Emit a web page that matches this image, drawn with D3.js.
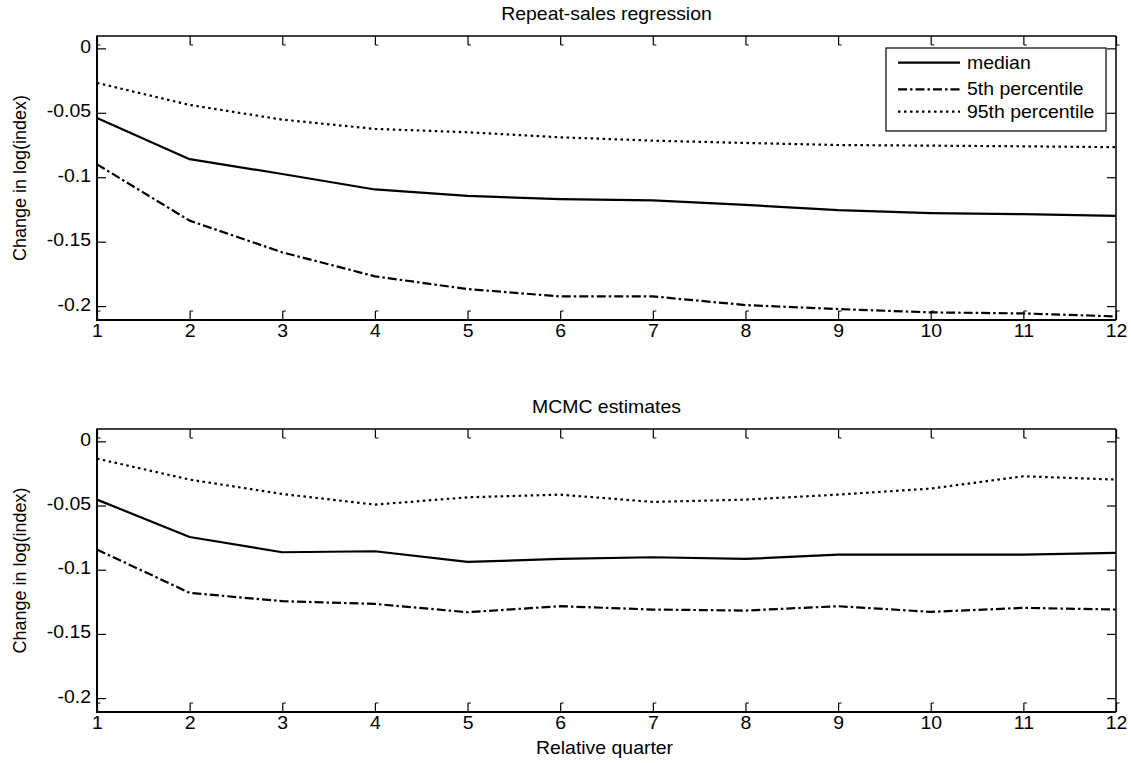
<!DOCTYPE html>
<html>
<head>
<meta charset="utf-8">
<script src="https://cdn.jsdelivr.net/npm/d3@7/dist/d3.min.js"></script>
<style>
  html, body { margin: 0; padding: 0; background: #fff; }
  svg { display: block; }
  text { font-family: "Liberation Sans", Arial, Helvetica, sans-serif; fill: #000; }
</style>
</head>
<body>
<svg id="chart" width="1131" height="763"></svg>
<script>
// Relative quarters on the horizontal axis
const quarters = [1, 2, 3, 4, 5, 6, 7, 8, 9, 10, 11, 12];

// Repeat-sales regression: change in log(index)
const repeatMedian = [-0.054, -0.086, -0.0975, -0.1095, -0.1145, -0.117, -0.118, -0.1215, -0.1255, -0.1278, -0.1287, -0.130];
const repeatP5     = [-0.090, -0.1337, -0.1583, -0.1769, -0.1868, -0.1925, -0.1925, -0.1992, -0.2023, -0.2049, -0.2057, -0.208];
const repeatP95    = [-0.0268, -0.0439, -0.0553, -0.0625, -0.0651, -0.069, -0.0716, -0.0734, -0.075, -0.0755, -0.076, -0.0767];

// MCMC estimates: change in log(index)
const mcmcMedian = [-0.0454, -0.0745, -0.0864, -0.0856, -0.0939, -0.0916, -0.0903, -0.0916, -0.0882, -0.0882, -0.0882, -0.0869];
const mcmcP5     = [-0.0843, -0.118, -0.1245, -0.1266, -0.1331, -0.1284, -0.131, -0.1318, -0.1284, -0.1328, -0.1297, -0.131];
const mcmcP95    = [-0.0135, -0.0298, -0.041, -0.0493, -0.0436, -0.0415, -0.0472, -0.0454, -0.0415, -0.0368, -0.0272, -0.0298];

// Axis ticks and labels
const yTicks = [0, -0.05, -0.1, -0.15, -0.2];
const yTickLabels = ["0", "-0.05", "-0.1", "-0.15", "-0.2"];
const yDomain = [-0.2108, 0.0096];
const seriesNames = ["median", "5th percentile", "95th percentile"];
const panelTitles = ["Repeat-sales regression", "MCMC estimates"];
const yAxisLabel = "Change in log(index)";
const xAxisLabel = "Relative quarter";

const styles = [
  { dash: null },
  { dash: "9,3,2.5,3" },
  { dash: "2.5,3.5" }
];

const FONT = 18;
const STRETCH = "scale(1.08,1)";

const svg = d3.select("#chart");
const left = 97, right = 1116;
const panels = [
  { top: 36, bottom: 320, title: panelTitles[0], series: [repeatMedian, repeatP5, repeatP95], legend: true, xlabel: false },
  { top: 429, bottom: 712, title: panelTitles[1], series: [mcmcMedian, mcmcP5, mcmcP95], legend: false, xlabel: true }
];

const x = d3.scaleLinear().domain([1, 12]).range([left, right]);

function styleTickText(sel) {
  sel.selectAll("text")
    .attr("font-size", FONT)
    .attr("transform", STRETCH);
}

panels.forEach(p => {
  const h = p.bottom - p.top;
  const y = d3.scaleLinear().domain(yDomain).range([p.bottom, p.top]);
  const g = svg.append("g");

  // inward ticks on all four sides
  const axBottom = g.append("g").attr("transform", `translate(0,${p.bottom})`)
    .call(d3.axisBottom(x).tickValues(quarters).tickFormat(d3.format("d")).tickSizeInner(-9).tickSizeOuter(0).tickPadding(4));
  const axTop = g.append("g").attr("transform", `translate(0,${p.top})`)
    .call(d3.axisTop(x).tickValues(quarters).tickFormat("").tickSizeInner(-9).tickSizeOuter(0));
  const axLeft = g.append("g").attr("transform", `translate(${left},0)`)
    .call(d3.axisLeft(y).tickValues(yTicks).tickFormat((d, i) => yTickLabels[i]).tickSizeInner(-9).tickSizeOuter(0).tickPadding(5.5));
  const axRight = g.append("g").attr("transform", `translate(${right},0)`)
    .call(d3.axisRight(y).tickValues(yTicks).tickFormat("").tickSizeInner(-9).tickSizeOuter(0));

  [axBottom, axTop, axLeft, axRight].forEach(a => {
    a.select(".domain").remove();
    a.selectAll(".tick line").attr("stroke", "#000").attr("stroke-width", 1.2);
  });
  styleTickText(axBottom);
  styleTickText(axLeft);
  axLeft.selectAll("text").attr("dy", "0.22em");

  // small feet on the x ticks
  axTop.selectAll(".tick").append("line")
    .attr("x1", 0).attr("x2", 3).attr("y1", 9).attr("y2", 9)
    .attr("stroke", "#000").attr("stroke-width", 1);
  axBottom.selectAll(".tick").append("line")
    .attr("x1", 0).attr("x2", 3).attr("y1", -9).attr("y2", -9)
    .attr("stroke", "#000").attr("stroke-width", 1);

  // data lines
  const line = d3.line().x((d, i) => x(quarters[i])).y(d => y(d));
  p.series.forEach((vals, si) => {
    g.append("path")
      .datum(vals)
      .attr("d", line)
      .attr("fill", "none")
      .attr("stroke", "#000")
      .attr("stroke-width", 2.2)
      .attr("stroke-linejoin", "round")
      .attr("stroke-dasharray", styles[si].dash);
  });

  // axes frame
  g.append("line").attr("x1", left).attr("x2", right).attr("y1", p.top).attr("y2", p.top)
    .attr("stroke", "#000").attr("stroke-width", 1.3);
  g.append("line").attr("x1", right).attr("x2", right).attr("y1", p.top).attr("y2", p.bottom)
    .attr("stroke", "#000").attr("stroke-width", 1.5);
  g.append("line").attr("x1", left).attr("x2", right).attr("y1", p.bottom).attr("y2", p.bottom)
    .attr("stroke", "#000").attr("stroke-width", 2);
  g.append("line").attr("x1", left).attr("x2", left).attr("y1", p.top - 0.5).attr("y2", p.bottom + 1)
    .attr("stroke", "#000").attr("stroke-width", 2);

  // title
  g.append("text")
    .attr("transform", `translate(${(left + right) / 2},${p.top - 16}) ${STRETCH}`)
    .attr("text-anchor", "middle")
    .attr("font-size", FONT)
    .text(p.title);

  // y label
  g.append("text")
    .attr("transform", `translate(26,${(p.top + p.bottom) / 2}) rotate(-90)`)
    .attr("text-anchor", "middle")
    .attr("font-size", FONT)
    .text(yAxisLabel);

  if (p.xlabel) {
    g.append("text")
      .attr("transform", `translate(${(left + right) / 2 - 2},${p.bottom + 42}) ${STRETCH}`)
      .attr("text-anchor", "middle")
      .attr("font-size", FONT)
      .text(xAxisLabel);
  }

  if (p.legend) {
    const lx = 886, ly = 48, lw = 220, lh = 83;
    const lg = g.append("g");
    lg.append("rect").attr("x", lx).attr("y", ly).attr("width", lw).attr("height", lh)
      .attr("fill", "#fff").attr("stroke", "#000").attr("stroke-width", 1.2);
    const rows = [62.7, 89.3, 111.7];
    seriesNames.forEach((name, si) => {
      lg.append("line")
        .attr("x1", 898).attr("x2", 960).attr("y1", rows[si]).attr("y2", rows[si])
        .attr("stroke", "#000").attr("stroke-width", 2.2)
        .attr("stroke-dasharray", styles[si].dash);
      lg.append("text")
        .attr("transform", `translate(967,${rows[si] + 6}) ${STRETCH}`)
        .attr("font-size", FONT)
        .text(name);
    });
  }
});
</script>
</body>
</html>
